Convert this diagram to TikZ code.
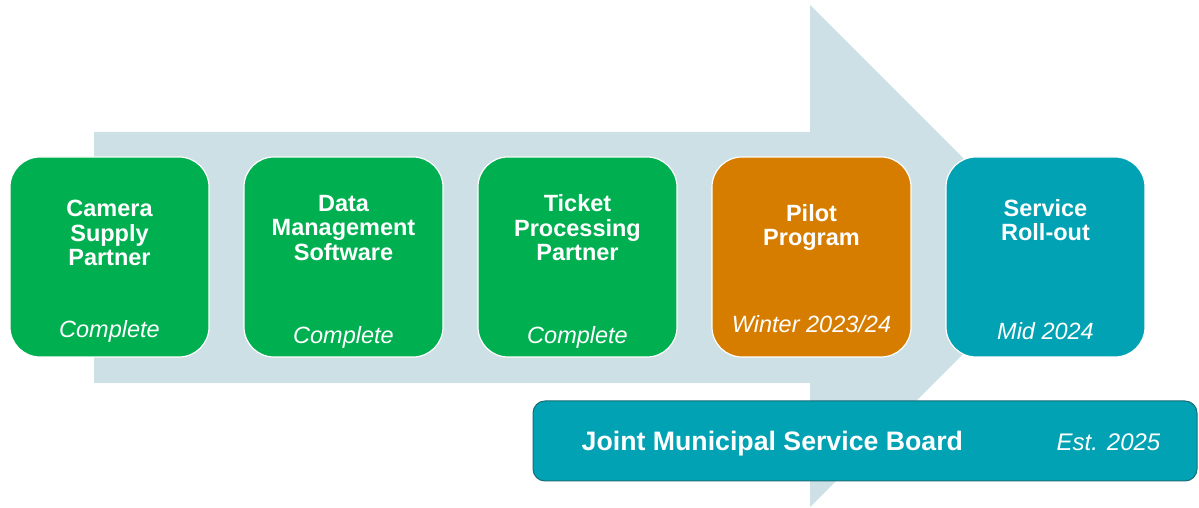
\documentclass[tikz,border=0pt]{standalone}
\usepackage{fontspec}
\setmainfont{Liberation Sans}
\usetikzlibrary{positioning}
\definecolor{arrowblue}{RGB}{204,224,229}
\definecolor{stagegreen}{RGB}{0,176,80}
\definecolor{stageorange}{RGB}{214,125,0}
\definecolor{stageteal}{RGB}{0,162,180}
\definecolor{boardline}{RGB}{24,110,120}
\begin{document}
\begin{tikzpicture}[x=1pt,y=1pt,
  stage/.style={draw=white, line width=1.2pt, rounded corners=30pt,
    minimum width=199pt, minimum height=200pt, inner sep=0pt},
  title/.style={text=white, align=center, inner sep=0pt,
    font=\fontsize{23.5}{24.5}\selectfont\bfseries},
  when/.style={text=white, inner sep=0pt,
    font=\fontsize{23.5}{24.5}\selectfont\itshape}]
  \useasboundingbox[fill=white] (0,0) rectangle (1199,508);
  % big arrow behind the stages
  \fill[arrowblue] (94,125) -- (94,376) -- (810,376) -- (810,503)
    -- (1061,252) -- (810,1) -- (810,125) -- cycle;
  % stages
  \node[stage, fill=stagegreen] (camera) at (109.5,251) {};
  \node[stage, fill=stagegreen, right=33.8pt of camera] (software) {};
  \node[stage, fill=stagegreen, right=33.8pt of software] (ticket) {};
  \node[stage, fill=stageorange, right=33.8pt of ticket] (pilot) {};
  \node[stage, fill=stageteal, right=33.8pt of pilot] (rollout) {};
  \node[title] (camera-t) at ([yshift=24pt]camera.center) {Camera\\Supply\\Partner};
  \node[title] (software-t) at ([yshift=29pt]software.center) {Data\\Management\\Software};
  \node[title] (ticket-t) at ([yshift=29pt]ticket.center) {Ticket\\Processing\\Partner};
  \node[title] (pilot-t) at ([yshift=29.5pt]pilot.center) {Pilot\\Program};
  \node[title] (rollout-t) at ([yshift=37pt]rollout.center) {Service\\Roll-out};
  \node[when] (camera-w) at ([yshift=-74pt]camera.center) {Complete};
  \node[when] (software-w) at ([yshift=-80pt]software.center) {Complete};
  \node[when] (ticket-w) at ([yshift=-80pt]ticket.center) {Complete};
  \node[when] (pilot-w) at ([yshift=-67pt]pilot.center) {Winter 2023/24};
  \node[when] (rollout-w) at ([yshift=-74pt]rollout.center) {Mid 2024};
  % board
  \node[draw=boardline, fill=stageteal, line width=1pt, rounded corners=12pt,
    minimum width=664pt, minimum height=80pt] (board) at (865,67) {};
  \node[title, anchor=west, font=\fontsize{26.7}{28}\selectfont\bfseries]
    (board-t) at ([xshift=49pt,yshift=-3pt]board.west) {Joint Municipal Service Board};
  \node[when, anchor=east, font=\fontsize{24}{26}\selectfont\itshape]
    (board-w) at ([xshift=-37pt,yshift=-1pt]board.east) {Est. 2025};
\end{tikzpicture}
\end{document}
